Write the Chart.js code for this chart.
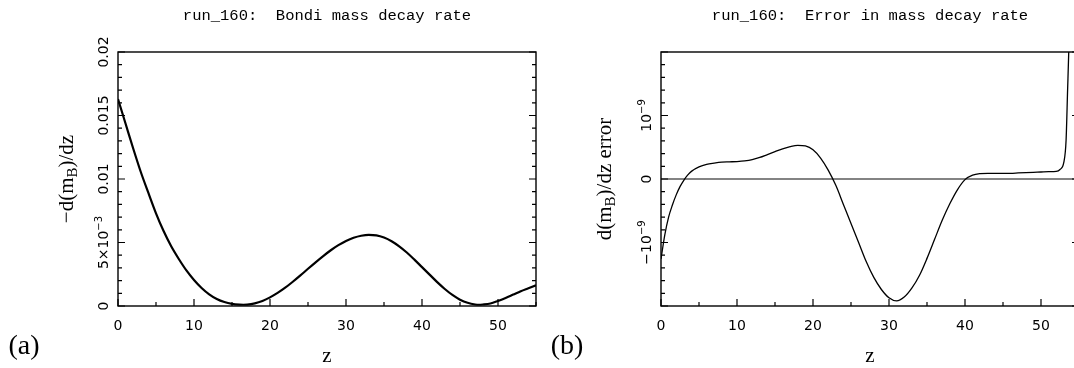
<!DOCTYPE html>
<html>
<head>
<meta charset="utf-8">
<script src="https://cdn.jsdelivr.net/npm/chart.js@4.4.1/dist/chart.umd.min.js"></script>
<style>
  html, body { margin: 0; padding: 0; background: #fff; overflow: hidden; width: 1074px; height: 368px; }
  .panel { position: absolute; top: 0; width: 560px; height: 368px; }
  #pa { left: 0; }
  #pb { left: 540px; }
</style>
</head>
<body>
<div class="panel" id="pa"><canvas id="ca"></canvas></div>
<div class="panel" id="pb"><canvas id="cb"></canvas></div>
<script>
/* (a) Bondi mass decay rate  -d(m_B)/dz  against z */
var zA    = [0, 1, 2, 3, 4, 5, 6, 7, 8, 9, 10, 11, 12, 13, 14, 15, 16, 16.5, 17, 18, 19, 20, 21, 22, 23, 24, 25, 26, 27,
             28, 29, 30, 31, 32, 33, 34, 35, 36, 37, 38, 39, 40, 41, 42, 43, 44, 45, 46, 47, 47.5, 48, 49, 50, 51, 52,
             53, 54, 55];
var rateA = [0.0163, 0.01435, 0.0124, 0.01055, 0.0089, 0.0073, 0.0059, 0.0047, 0.0037, 0.0028, 0.00205, 0.00142,
             0.00092, 0.00055, 0.00031, 0.00017, 0.00011, 0.0001, 0.00011, 0.00021, 0.0004, 0.00068, 0.00103, 0.00144,
             0.00191, 0.00241, 0.00293, 0.00344, 0.00393, 0.00439, 0.00479, 0.00512, 0.00537, 0.00553, 0.0056, 0.00556,
             0.00539, 0.0051, 0.0047, 0.00421, 0.00365, 0.00306, 0.00247, 0.00188, 0.00134, 0.00087, 0.0005, 0.00025,
             0.00012, 0.0001, 0.00012, 0.0002, 0.0004, 0.00063, 0.0009, 0.00117, 0.0014, 0.00163];

/* (b) error in the decay rate, in units of 1e-9 */
var zB   = [0, 0.5, 1, 1.5, 2, 2.5, 3, 3.5, 4, 5, 6, 7, 8, 9, 10, 11, 12, 13, 14, 15, 16, 17, 18, 19, 20, 21, 22, 23,
            24, 25, 26, 27, 28, 29, 30, 31, 32, 33, 34, 35, 36, 37, 38, 39, 40, 41, 42, 43, 44, 45, 46, 47, 48, 49, 50,
            51, 52, 52.5, 53, 53.3, 53.5, 53.65, 54];
var errB = [-1.26, -0.88, -0.6, -0.41, -0.25, -0.12, -0.02, 0.06, 0.12, 0.19, 0.23, 0.25, 0.265, 0.27, 0.275, 0.285,
            0.305, 0.34, 0.385, 0.43, 0.475, 0.51, 0.53, 0.52, 0.46, 0.33, 0.14, -0.1, -0.4, -0.7, -1.0, -1.3, -1.55,
            -1.74, -1.87, -1.92, -1.86, -1.72, -1.52, -1.25, -0.95, -0.65, -0.39, -0.17, -0.01, 0.06, 0.085, 0.09, 0.09,
            0.09, 0.09, 0.095, 0.1, 0.105, 0.11, 0.115, 0.12, 0.15, 0.26, 0.61, 1.4, 2.0, 4.0];

var yTicksA  = [0, 0.005, 0.01, 0.015, 0.02];
var yLabelsA = ['0', '5×10^{−3}', '0.01', '0.015', '0.02'];
var yTicksB  = [-1, 0, 1];
var yLabelsB = ['−10^{−9}', '0', '10^{−9}'];

var MONO  = '"Liberation Mono", monospace';
var SANS  = '"DejaVu Sans", sans-serif';
var SERIF = '"Liberation Serif", serif';

/* 'a^{b}' -> superscript, 'a_{b}' -> subscript */
function parseRich(str) {
  var segs = [], re = /([\^_])\{([^}]*)\}/g, last = 0, m;
  while ((m = re.exec(str))) {
    if (m.index > last) segs.push({ t: str.slice(last, m.index), mode: 0 });
    segs.push({ t: m[2], mode: m[1] === '^' ? 1 : -1 });
    last = re.lastIndex;
  }
  if (last < str.length) segs.push({ t: str.slice(last), mode: 0 });
  return segs;
}

function drawRich(ctx, str, x, y, size, family, rotate) {
  var segs = parseRich(str), small = Math.round(size * 0.72), w = 0;
  ctx.save();
  ctx.translate(x, y);
  if (rotate) ctx.rotate(-Math.PI / 2);
  ctx.textAlign = 'left';
  ctx.textBaseline = 'alphabetic';
  ctx.fillStyle = '#000';
  segs.forEach(function (s) {
    ctx.font = (s.mode ? small : size) + 'px ' + family;
    s.w = ctx.measureText(s.t).width;
    w += s.w;
  });
  var cx = -w / 2;
  segs.forEach(function (s) {
    ctx.font = (s.mode ? small : size) + 'px ' + family;
    var dy = s.mode === 1 ? -size * 0.42 : (s.mode === -1 ? size * 0.22 : 0);
    ctx.fillText(s.t, cx, size * 0.36 + dy);
    cx += s.w;
  });
  ctx.restore();
}

/* frame, inward ticks, tick labels and the captions */
var framePlugin = {
  id: 'frame',
  beforeDatasetsDraw: function (chart, args, o) {
    if (!o.zeroLine) return;
    var a = chart.chartArea, y0 = chart.scales.y.getPixelForValue(0), ctx = chart.ctx;
    ctx.save();
    ctx.strokeStyle = '#5a5a5a';
    ctx.lineWidth = 1.5;
    ctx.beginPath(); ctx.moveTo(a.left, y0); ctx.lineTo(a.right, y0); ctx.stroke();
    ctx.restore();
  },
  afterDraw: function (chart, args, o) {
    var ctx = chart.ctx, a = chart.chartArea, xs = chart.scales.x, ys = chart.scales.y;
    ctx.save();
    ctx.strokeStyle = '#000';
    ctx.lineWidth = 1.4;
    ctx.strokeRect(a.left, a.top, a.right - a.left, a.bottom - a.top);

    ctx.lineWidth = 1.2;
    ctx.beginPath();
    var i, v, p, n, big;
    n = Math.round((xs.max - xs.min) / 5);
    for (i = 0; i <= n; i++) {
      v = xs.min + i * 5;
      p = xs.getPixelForValue(v);
      big = Math.abs(v / 10 - Math.round(v / 10)) < 1e-6;
      ctx.moveTo(p, a.bottom); ctx.lineTo(p, a.bottom - (big ? 7 : 4));
    }
    n = Math.round((ys.max - ys.min) / o.yMinor);
    for (i = 0; i <= n; i++) {
      v = ys.min + i * o.yMinor;
      p = ys.getPixelForValue(v);
      big = Math.abs(v / o.yMajor - Math.round(v / o.yMajor)) < 1e-6;
      ctx.moveTo(a.left, p);  ctx.lineTo(a.left + (big ? 7 : 4), p);
      ctx.moveTo(a.right, p); ctx.lineTo(a.right - (big ? 7 : 4), p);
    }
    ctx.stroke();
    ctx.restore();

    xs.ticks.forEach(function (t) {
      drawRich(ctx, String(t.value), xs.getPixelForValue(t.value), 325, 14, SANS, false);
    });
    o.yTicks.forEach(function (t, k) {
      drawRich(ctx, o.yLabels[k], a.left - 15, ys.getPixelForValue(t), 14, SANS, true);
    });
    drawRich(ctx, o.yTitle, a.left - o.titleOff, (a.top + a.bottom) / 2, 21, SERIF, true);

    var mid = (a.left + a.right) / 2;
    ctx.save();
    ctx.fillStyle = '#000';
    ctx.textAlign = 'center';
    ctx.textBaseline = 'middle';
    ctx.font = '15.5px ' + MONO;
    ctx.fillText(o.title, mid, 16);
    ctx.font = '21px ' + SERIF;
    ctx.fillText('z', mid, 356);
    ctx.font = '28px ' + SERIF;
    ctx.fillText(o.letter, a.left - 94, 347);
    ctx.restore();
  }
};

function makePanel(canvas, p) {
  var pts = p.z.map(function (z, i) { return { x: z, y: p.v[i] }; });
  return new Chart(canvas, {
    type: 'line',
    data: { datasets: [{
      data: pts, borderColor: '#000', borderWidth: p.lw, pointRadius: 0,
      cubicInterpolationMode: 'monotone', fill: false, clip: 0
    }] },
    options: {
      responsive: true,
      maintainAspectRatio: false,
      animation: false,
      layout: { padding: { left: p.left, right: p.right, top: 52, bottom: 62 } },
      plugins: { legend: { display: false }, tooltip: { enabled: false }, frame: p.frame },
      scales: {
        x: {
          type: 'linear', min: 0, max: 55,
          grid: { display: false }, border: { display: false },
          ticks: { display: false, stepSize: 10, includeBounds: false },
          afterFit: function (s) { s.height = 0; }
        },
        y: {
          type: 'linear', min: p.ymin, max: p.ymax,
          grid: { display: false }, border: { display: false },
          ticks: { display: false },
          afterFit: function (s) { s.width = 0; }
        }
      }
    },
    plugins: [framePlugin]
  });
}

makePanel(document.getElementById('ca'), {
  z: zA, v: rateA, lw: 2.2, ymin: 0, ymax: 0.02, left: 118, right: 24,
  frame: { yMinor: 0.001, yMajor: 0.005, yTicks: yTicksA, yLabels: yLabelsA, titleOff: 53,
           yTitle: '−d(m_{B})/dz', title: 'run_160:  Bondi mass decay rate', letter: '(a)' }
});
makePanel(document.getElementById('cb'), {
  z: zB, v: errB, lw: 1.3, ymin: -2, ymax: 2, left: 121, right: 21,
  frame: { yMinor: 0.2, yMajor: 1, yTicks: yTicksB, yLabels: yLabelsB, zeroLine: true, titleOff: 58,
           yTitle: 'd(m_{B})/dz error', title: 'run_160:  Error in mass decay rate', letter: '(b)' }
});
</script>
</body>
</html>
